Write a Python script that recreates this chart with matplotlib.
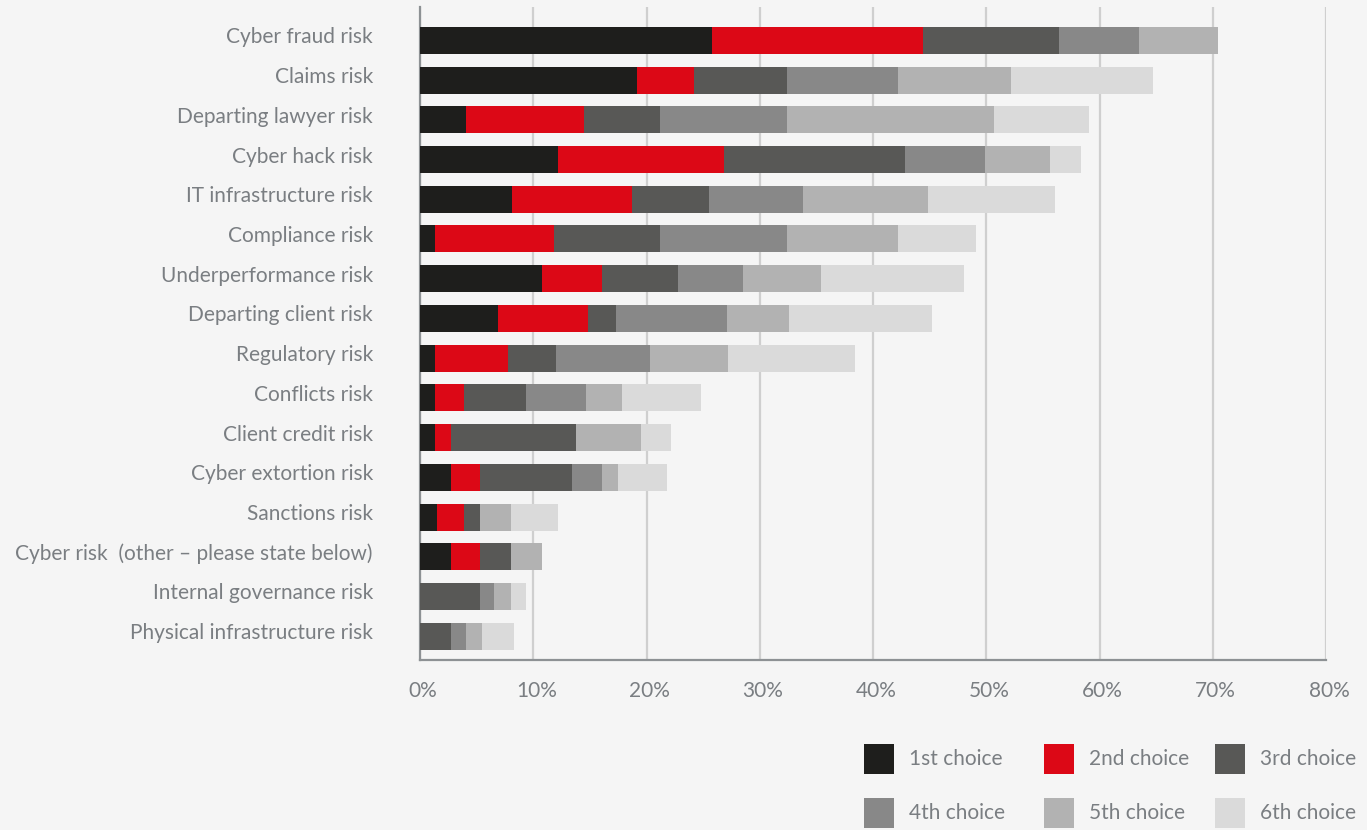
import matplotlib
matplotlib.use("Agg")
import matplotlib.pyplot as plt
from matplotlib.patches import Rectangle
from matplotlib.ticker import FuncFormatter, MultipleLocator
from matplotlib.transforms import ScaledTranslation

# --- Data (percent of respondents ranking each risk) -------------------------
risks = [
    "Cyber fraud risk",
    "Claims risk",
    "Departing lawyer risk",
    "Cyber hack risk",
    "IT infrastructure risk",
    "Compliance risk",
    "Underperformance risk",
    "Departing client risk",
    "Regulatory risk",
    "Conflicts risk",
    "Client credit risk",
    "Cyber extortion risk",
    "Sanctions risk",
    "Cyber risk  (other – please state below)",
    "Internal governance risk",
    "Physical infrastructure risk",
]
choice_1 = [25.8, 19.2, 4.1, 12.2, 8.1, 1.3, 10.8, 6.9, 1.3, 1.3, 1.3, 2.7, 1.5, 2.7, 0.0, 0.0]
choice_2 = [18.6, 5.0, 10.4, 14.6, 10.6, 10.5, 5.3, 7.9, 6.5, 2.6, 1.4, 2.6, 2.4, 2.6, 0.0, 0.0]
choice_3 = [12.0, 8.2, 6.7, 16.0, 6.8, 9.4, 6.7, 2.5, 4.2, 5.5, 11.1, 8.1, 1.4, 2.7, 5.3, 2.7]
choice_4 = [7.1, 9.8, 11.2, 7.1, 8.3, 11.2, 5.7, 9.8, 8.3, 5.3, 0.0, 2.7, 0.0, 0.0, 1.2, 1.4]
choice_5 = [7.0, 10.0, 18.3, 5.7, 11.1, 9.8, 6.9, 5.5, 6.9, 3.1, 5.7, 1.4, 2.7, 2.8, 1.5, 1.4]
choice_6 = [0.0, 12.5, 8.4, 2.8, 11.2, 6.9, 12.6, 12.6, 11.2, 7.0, 2.7, 4.3, 4.2, 0.0, 1.4, 2.8]

series = [choice_1, choice_2, choice_3, choice_4, choice_5, choice_6]
series_names = ["1st choice", "2nd choice", "3rd choice",
                "4th choice", "5th choice", "6th choice"]
colors = ["#1e1e1c", "#dc0816", "#585856", "#888888", "#b2b2b2", "#dadada"]

BG = "#f5f5f5"
TEXT = "#7a7e82"
GRID = "#cfcfcf"
AXIS = "#8d9194"

plt.rcParams["font.family"] = ["Lato", "DejaVu Sans"]

fig = plt.figure(figsize=(13.67, 8.30), dpi=100, facecolor=BG)
ax = fig.add_axes([420 / 1367, 1 - 660 / 830, 906 / 1367, 653 / 830])
ax.set_facecolor(BG)

ypos = list(range(len(risks)))
left = [0.0] * len(risks)
for vals, col in zip(series, colors):
    ax.barh(ypos, vals, left=left, height=0.68, color=col, linewidth=0, zorder=3)
    left = [l + v for l, v in zip(left, vals)]

ax.set_xlim(0, 80)
ax.set_ylim(15.6, -0.84)
ax.xaxis.set_major_locator(MultipleLocator(10))
ax.xaxis.set_major_formatter(FuncFormatter(lambda v, _: f"{v:.0f}%"))
ax.grid(axis="x", color=GRID, linewidth=1.6, zorder=0)

ax.set_yticks(ypos)
ax.set_yticklabels(risks)
ax.tick_params(axis="y", length=0, pad=34, labelsize=15, labelcolor=TEXT)
ax.tick_params(axis="x", length=0, pad=15, labelsize=15, labelcolor=TEXT)

# category labels sit a little above the bar centres
lift = ScaledTranslation(0, 5 / 100, fig.dpi_scale_trans)
for lab in ax.get_yticklabels():
    lab.set_transform(lab.get_transform() + lift)
nudge = ScaledTranslation(3 / 100, 0, fig.dpi_scale_trans)
for lab in ax.get_xticklabels():
    lab.set_transform(lab.get_transform() + nudge)

for side in ("top", "right"):
    ax.spines[side].set_visible(False)
for side in ("left", "bottom"):
    ax.spines[side].set_color(AXIS)
    ax.spines[side].set_linewidth(1.6)

# Legend laid out in two rows of three
leg_cols = [864, 1044, 1215]
leg_rows = [759, 813]
for i, (name, col) in enumerate(zip(series_names, colors)):
    cx = leg_cols[i % 3] / 1367
    cy = 1 - leg_rows[i // 3] / 830
    fig.add_artist(Rectangle((cx, cy - 15 / 830), 30 / 1367, 30 / 830,
                             transform=fig.transFigure, facecolor=col,
                             edgecolor="none"))
    fig.text(cx + 45 / 1367, cy, name, ha="left", va="center",
             fontsize=15, color=TEXT)

fig.savefig("out.png", dpi=100, facecolor=BG)
